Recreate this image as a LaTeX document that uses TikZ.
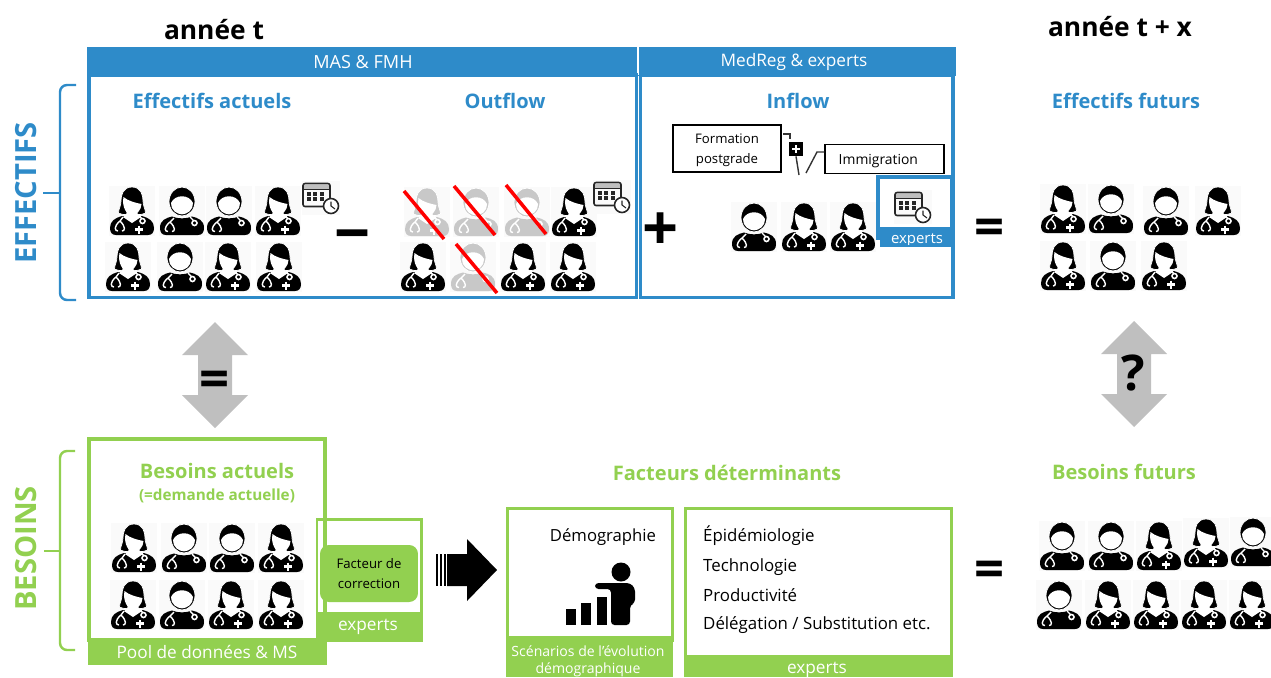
\documentclass[tikz,border=0pt]{standalone}
\usepackage{fontspec}
\setmainfont{Open Sans}
\usepackage{tikz}
\usetikzlibrary{calc}
\definecolor{mainblue}{HTML}{2E8BC9}
\definecolor{maingreen}{HTML}{92D050}
\definecolor{arrowgray}{HTML}{BFBFBF}
\definecolor{lightdoc}{HTML}{C8C8C8}
\tikzset{
  x=0.02cm, y=-0.02cm,
  bluehead/.style={text=mainblue, font=\bfseries\fontsize{11.4}{13}\selectfont},
  greenhead/.style={text=maingreen, font=\bfseries\fontsize{11.4}{13}\selectfont},
  yearhead/.style={font=\bfseries\fontsize{15}{17}\selectfont},
  sidehead/.style={rotate=90, font=\bfseries\fontsize{16.6}{19}\selectfont},
  barlabel/.style={text=white, font=\fontsize{9.8}{12}\selectfont, align=center},
  bodytext/.style={anchor=base west, font=\fontsize{9.6}{12}\selectfont},
  bigsign/.style={font=\bfseries\fontsize{30}{30}\selectfont, inner sep=0pt},
  smallbox/.style={draw=black, thick, align=center, font=\fontsize{7.5}{11}\selectfont},
  pics/docm/.style={code={
    \fill[black!2] (-23,-25) rectangle (23,25);
    \fill[#1] (-22,17) .. controls (-22,9) and (-16,7) .. (-10,5.5) .. controls (-4,8) and (4,8) .. (10,5.5) .. controls (16,7) and (22,9) .. (22,17) .. controls (22,21.5) and (20,24) .. (16,24) -- (-16,24) .. controls (-20,24) and (-22,21.5) .. (-22,17) -- cycle;
    \filldraw[fill=#1, draw=white, line width=0.45pt] (0,-9.5) ellipse (13 and 14.5);
    \fill[white] (-11,-8) .. controls (-7,-17) and (7,-17) .. (11,-8) .. controls (11.5,-1) and (5,3.2) .. (0,3.4) .. controls (-5,3.2) and (-11.5,-1) .. (-11,-8) -- cycle;
    \draw[white, line width=0.8pt] (-8,7) -- (-12,11) .. controls (-19,17) and (-17,20.5) .. (-14,20.5) (-12,11) .. controls (-6,17) and (-7,20.5) .. (-10,20.5);
    \draw[white, line width=0.8pt] (8,6) -- (12,10);
    \filldraw[fill=#1, draw=white, line width=0.9pt] (12.5,12) circle (2.5);
  }},
  pics/docm/.default=black,
  pics/docf/.style={code={
    \fill[black!2] (-23,-25) rectangle (23,25);
    \fill[#1] (-22,17) .. controls (-22,10) and (-17,7) .. (-10,5) -- (10,5) .. controls (17,7) and (22,10) .. (22,17) .. controls (22,21.5) and (20,24) .. (16,24) -- (-16,24) .. controls (-20,24) and (-22,21.5) .. (-22,17) -- cycle;
    \filldraw[fill=#1, draw=white, line width=0.4pt] (0,-24) .. controls (-9,-24) and (-11,-16) .. (-11,-10) .. controls (-11,-5) and (-13.5,-2) .. (-13.5,2) .. controls (-9,4) and (-6,4) .. (-4,3) -- (4,3) .. controls (6,4) and (9,4) .. (13.5,2) .. controls (13.5,-2) and (11,-5) .. (11,-10) .. controls (11,-16) and (9,-24) .. (0,-24) -- cycle;
    \fill[white] (-5,0) -- (5,0) -- (6,4) -- (9,6) -- (0,12) -- (-9,6) -- (-6,4) -- cycle;
    \fill[white] (-8.5,-14) .. controls (-4,-10) and (4,-8) .. (9.5,-7) .. controls (9.5,-1) and (4,4.5) .. (0,4.5) .. controls (-5,4.5) and (-10.5,-4) .. (-8.5,-14) -- cycle;
    \draw[white, line width=0.8pt] (-9,6) -- (-12,10) .. controls (-19,16) and (-17,20) .. (-14,20) (-12,10) .. controls (-6,16) and (-7,20) .. (-10,20);
    \draw[white, line width=0.8pt] (7,4) -- (10,8);
    \filldraw[fill=#1, draw=white, line width=0.9pt] (10.5,10) circle (2.5);
    \draw[white, line width=1.3pt] (3.2,18.5) -- (11.2,18.5) (7.2,14.5) -- (7.2,22.5);
  }},
  pics/docf/.default=black,
  pics/calendar/.style={code={
    \fill[black!2] (-19,-17) rectangle (19,17);
    \draw[black!85, line width=0.9pt, rounded corners=1.2] (-18,-14.5) rectangle (9,8.5);
    \fill[black!25] (-17,-13.5) rectangle (8,-9);
    \draw[black!85, line width=0.7pt] (-18,-8.5) -- (9,-8.5);
    \foreach \cx in {-12.5,-6,0.5}
      \foreach \cy in {-4.5,1}
        \fill[black!85] (\cx-2,\cy-2) rectangle (\cx+2,\cy+2);
    \filldraw[fill=white, draw=black!85, line width=0.9pt] (10,8) circle (7.5);
    \draw[black!85, line width=0.6pt] (10,3.5) -- (10,8) -- (14,11);
  }},
  pics/updown/.style={code={
    \fill[arrowgray] (0,-53) -- (33,-20) -- (17,-20) -- (17,20) -- (33,20) -- (0,53) -- (-33,20) -- (-17,20) -- (-17,-20) -- (-33,-20) -- cycle;
  }}
}

\begin{document}
\begin{tikzpicture}
\useasboundingbox (0,0) rectangle (1271,677);
%\draw[step=100,gray,very thin] (0,0) grid (1271,677);

% top part
\filldraw[fill=mainblue, draw=mainblue] (87,47) rectangle (955,75);
\draw[white, line width=0.6pt] (638,47) -- (638,75);
\draw[mainblue, line width=2.2pt] (89,75) rectangle (636.5,297.5);
\draw[mainblue, line width=2.2pt] (640.5,75) rectangle (953,297.5);
\node[barlabel, font=\fontsize{10.3}{12}\selectfont] (massrc) at (363,62) {MAS \& FMH};
\node[barlabel] (medregsrc) at (794,62.5) {MedReg \& experts};

\node[yearhead] (yeart) at (214,30) {année t};
\node[yearhead] (yeartx) at (1120,27) {année t + x};
\node[bluehead] (effact) at (212,101) {Effectifs actuels};
\node[bluehead] (outflow) at (505,101) {Outflow};
\node[bluehead] (inflow) at (798,101) {Inflow};
\node[bluehead] (efffut) at (1126,101) {Effectifs futurs};
\node[sidehead, text=mainblue] (effside) at (26,193) {EFFECTIFS};
\node[sidehead, text=maingreen] (besside) at (26,548.5) {BESOINS};

\draw[mainblue, line width=1.4pt, rounded corners=4] (76,85) -- (60,85) -- (60,300) -- (76,300);
\draw[mainblue, line width=1.4pt] (60,193) -- (43,193);
\draw[maingreen, line width=1.4pt, rounded corners=4] (75,451) -- (60,451) -- (60,650) -- (75,650);
\draw[maingreen, line width=1.4pt] (60,551) -- (44,551);

% doctors, x/y/colour
\foreach \x/\y/\c in {132/211/black,278/211/black,128/267/black,228/267/black,279/267/black,
    427/212/lightdoc,574/212/black,423/267/black,523/267/black,573/267/black,
    804/227/black,853/227/black,
    1063/209/black,1218/211/black,1063/266/black,1164/266/black,
    134/548/black,281/548/black,133/605/black,231/605/black,281/605/black,
    1159/546/black,1206/543/black,1108/605/black,1156/605/black,1204/605/black,1252/605/black}
  \pic at (\x,\y) {docf=\c};
\foreach \x/\y/\c in {182/211/black,229/211/black,180/267/black,
    476/212/lightdoc,527/212/lightdoc,473/267/lightdoc,
    754/227/black,
    1111/209/black,1166/211/black,1113/266/black,
    184/548/black,232/548/black,182/605/black,
    1062/546/black,1111/546/black,1253/542/black,1059/605/black}
  \pic at (\x,\y) {docm=\c};

% crossed out
\draw[red, line width=2pt] (404,191) -- (444,239);
\draw[red, line width=2pt] (454,186) -- (495,235);
\draw[red, line width=2pt] (506,185) -- (546,234);
\draw[red, line width=2pt] (456,244) -- (497,293);

\pic at (321,198) {calendar};
\pic at (612,197) {calendar};

\node[bigsign, font=\bfseries\fontsize{36}{36}\selectfont] (minussign) at (353,243) {−};
\node[bigsign, font=\bfseries\fontsize{36}{36}\selectfont] (plussign) at (661,232) {+};
\node[bigsign] (eqtop) at (990,232) {=};
\node[bigsign] (eqbottom) at (990,574) {=};

% inflow sources
\node[smallbox, minimum width=2.16cm, minimum height=0.94cm] (formation) at (727,148.5) {\rule{0pt}{1em}Formation\\postgrade};
\node[smallbox, minimum width=2.38cm, minimum height=0.52cm, font=\fontsize{7.9}{11}\selectfont] (immigration) at (884.5,159) {\rule{0pt}{1em}Immigration\hspace{7pt}};
\node[fill=black, minimum size=0.28cm, inner sep=0pt] (crossmark) at (796,149) {};
\draw[white, line width=1.3pt] ($(crossmark)+(-4,0)$) -- ($(crossmark)+(4,0)$) ($(crossmark)+(0,-4)$) -- ($(crossmark)+(0,4)$);
\coordinate (hookstart) at (783,134);
\coordinate (hookend) at (790,139);
\coordinate (docleft) at (799,175);
\coordinate (docright) at (806,173);
\coordinate (hookbend) at (817,152);
\draw[black!80, thick] (hookstart) -- (790,134) -- (hookend);
\draw[black!80, thick] (crossmark.south) -- (docleft);
\draw[black!80, thick] (docright) -- (hookbend) -- (immigration.west |- hookbend);

\filldraw[fill=white, draw=mainblue, line width=2pt] (878,177) rectangle (952,238);
\pic at (913,207) {calendar};
\fill[mainblue] (880,227) rectangle (954,247);
\begin{scope}
\clip (880,227) rectangle (954,244);
\node[barlabel, font=\fontsize{8.5}{10}\selectfont] (expertsinflow) at (917,240) {experts};
\end{scope}

% middle
\pic at (215,375) {updown};
\node[bigsign] (eqmiddle) at (215,384) {=};
\pic at (1134,374) {updown};
\node[bigsign, font=\bfseries\fontsize{28}{28}\selectfont] (question) at (1133,373) {?};

% bottom part
\draw[maingreen, line width=1.7pt] (317,519.5) rectangle (421.5,640);
\fill[maingreen] (316,612) rectangle (423,640);
\node[barlabel] (expertsfact) at (368,627) {experts};
\draw[maingreen, line width=2.2pt] (89,439) rectangle (325,640);
\fill[maingreen] (88,638) rectangle (327,665);
\node[barlabel] (poolsrc) at (207,652) {Pool de données \& MS};
\node[greenhead] (besact) at (217,471) {Besoins actuels};
\node[text=maingreen, font=\bfseries\fontsize{8.7}{10}\selectfont] (besdem) at (217,496) {(=demande actuelle)};
\node[fill=maingreen, rounded corners=5pt, minimum width=1.96cm, minimum height=1.14cm, inner sep=0pt, align=center, font=\fontsize{7.5}{11}\selectfont] (facteur) at (369,573.5) {Facteur de\\correction};

\fill[black] (447,554) -- (467,554) -- (467,539) -- (497,570) -- (467,601) -- (467,586) -- (447,586) -- cycle;
\foreach \x in {436,440,444}
  \fill[black] (\x,554) rectangle (\x+2.2,586);

\node[greenhead] (facteurs) at (727,473) {Facteurs déterminants};
\node[greenhead] (besfut) at (1124,472) {Besoins futurs};

\draw[maingreen, line width=1.7pt] (507.5,508) rectangle (672,640);
\fill[maingreen] (506,636) rectangle (673,677);
\node[font=\fontsize{9.5}{12}\selectfont] (demo) at (603,537) {Démographie};
\node[barlabel, font=\fontsize{8}{9.6}\selectfont] (scen) at (588,661) {Scénarios de l'évolution\\démographique};
\fill[black] (566,609) rectangle (576,625);
\fill[black] (581,603) rectangle (591,625);
\fill[black] (597,597) rectangle (607,625);
\fill[black] (621,572) circle (9.5);
\fill[black, rounded corners=2] (595,583) -- (630,583) -- (635,588) -- (635,603) -- (630,605) -- (630,625) -- (611,625) -- (611,589) -- (595,589) -- cycle;

\draw[maingreen, line width=1.7pt] (685,508) rectangle (951.5,657);
\fill[maingreen] (684,655) rectangle (953,677);
\node[barlabel] (expertsdet) at (817,670) {experts};
\node[bodytext] (epid) at (697,541) {Épidémiologie};
\node[bodytext] (tech) at (697,571) {Technologie};
\node[bodytext] (prod) at (697,601) {Productivité};
\node[bodytext] (deleg) at (697,629) {Délégation / Substitution etc.};
\end{tikzpicture}
\end{document}
